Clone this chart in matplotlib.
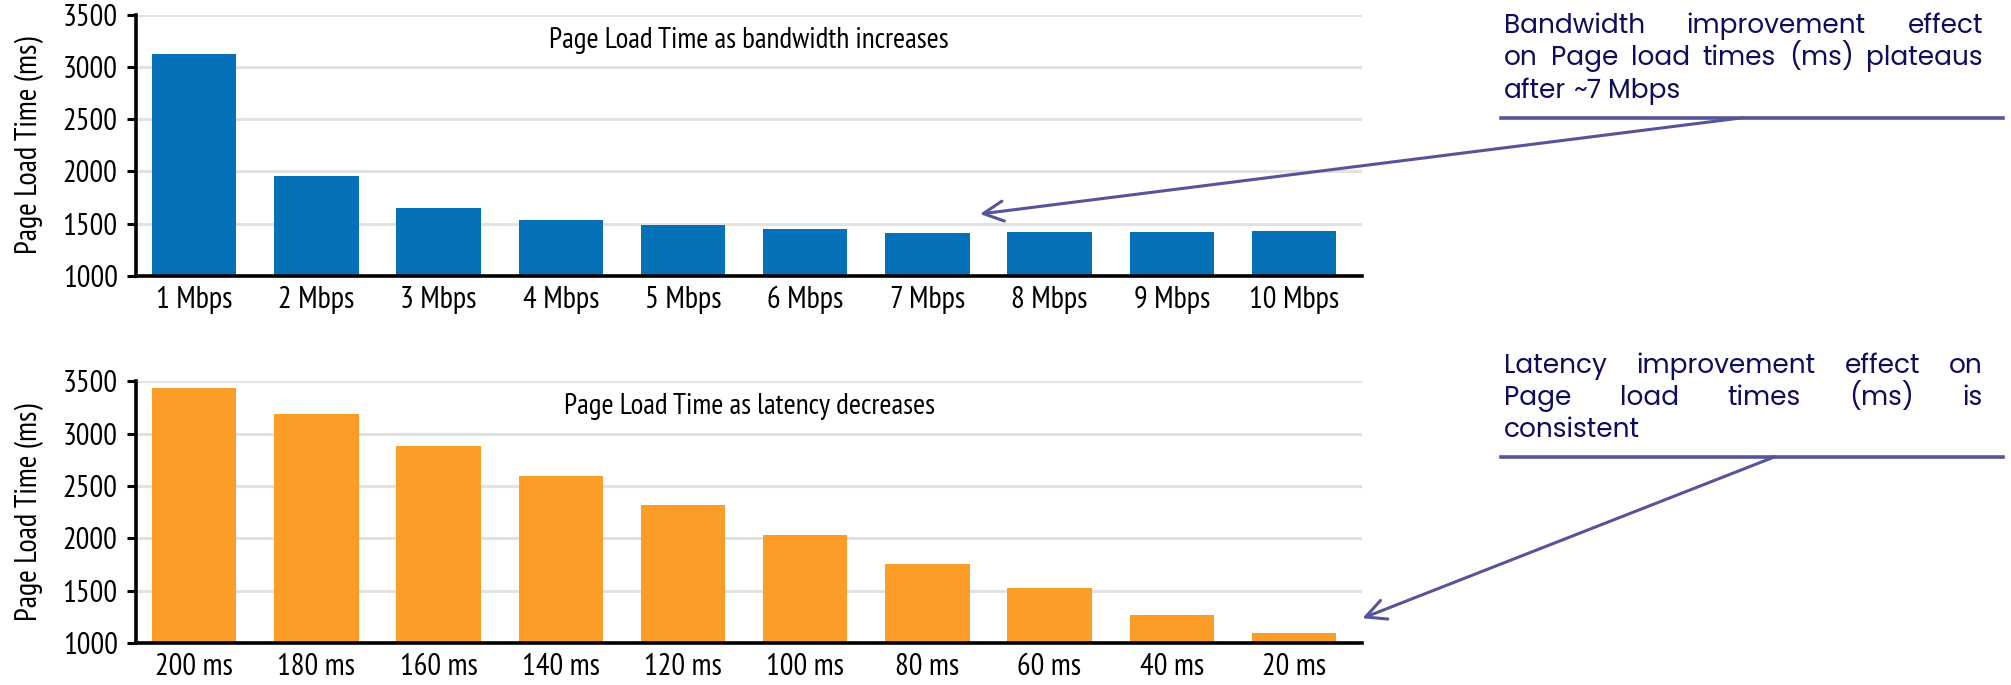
import matplotlib
matplotlib.use('Agg')
import matplotlib.pyplot as plt
from matplotlib.lines import Line2D

# Page load times (ms) per connection setting
bandwidth_labels = ['1 Mbps', '2 Mbps', '3 Mbps', '4 Mbps', '5 Mbps',
                    '6 Mbps', '7 Mbps', '8 Mbps', '9 Mbps', '10 Mbps']
bandwidth_plt = [3125, 1960, 1655, 1535, 1490, 1453, 1408, 1418, 1421, 1427]

latency_labels = ['200 ms', '180 ms', '160 ms', '140 ms', '120 ms',
                  '100 ms', '80 ms', '60 ms', '40 ms', '20 ms']
latency_plt = [3433, 3188, 2883, 2597, 2320, 2037, 1760, 1531, 1270, 1098]

y_ticks = [1000, 1500, 2000, 2500, 3000, 3500]

BLUE = '#0571b9'
ORANGE = '#fd9d27'
NOTE_LINE = '#56559b'
NOTE_TEXT = '#0d0d5c'
CHART_FONT = ['PT Sans Narrow', 'DejaVu Sans']
NOTE_FONT = dict(family=['Poppins', 'DejaVu Sans'], fontsize=19, color=NOTE_TEXT)

W, H = 2011, 685
fig = plt.figure(figsize=(W / 100, H / 100), dpi=100)


def bar_panel(rect, labels, values, color, title):
    ax = fig.add_axes(rect)
    ax.bar(range(len(values)), values, width=0.69, color=color, zorder=2)
    ax.set_xlim(-0.476, 9.557)
    ax.set_ylim(1000, 3500)
    ax.set_yticks(y_ticks)
    ax.set_xticks(range(len(labels)))
    ax.set_xticklabels(labels)
    for lab in ax.get_xticklabels() + ax.get_yticklabels():
        lab.set_family(CHART_FONT)
        lab.set_fontsize(22)
    ax.tick_params(axis='x', length=0, pad=7)
    ax.tick_params(axis='y', length=6.7, width=2.2, pad=6.5)
    ax.yaxis.grid(True, color='#e2e2e2', linewidth=2.2)
    ax.set_axisbelow(True)
    for s in ('top', 'right'):
        ax.spines[s].set_visible(False)
    for s in ('left', 'bottom'):
        ax.spines[s].set_linewidth(2.6)
        ax.spines[s].set_color('black')
    ax.set_ylabel('Page Load Time (ms)', family=CHART_FONT, fontsize=22, va='center')
    ax.yaxis.set_label_coords(-0.0873, 0.5)
    ax.text(0.5, 0.903, title, transform=ax.transAxes, ha='center', va='center',
            family=CHART_FONT, fontsize=21)
    return ax


ax_bw = bar_panel([136 / W, 1 - 276 / H, 1226 / W, 261.3 / H],
                  bandwidth_labels, bandwidth_plt, BLUE,
                  'Page Load Time as bandwidth increases')
ax_lat = bar_panel([136 / W, 1 - 643.3 / H, 1226 / W, 262 / H],
                   latency_labels, latency_plt, ORANGE,
                   'Page Load Time as latency decreases')

renderer = fig.canvas.get_renderer()


def draw_note(lines, baselines, justify, left=1504, right=1983):
    # lay words out one by one so the full lines fill the column
    probe = fig.text(0, 0, 'x x', **NOTE_FONT)
    w2 = probe.get_window_extent(renderer).width
    probe.set_text('xx')
    space = w2 - probe.get_window_extent(renderer).width
    probe.remove()
    for line, base, just in zip(lines, baselines, justify):
        words = line.split(' ')
        arts = [fig.text(0, 1 - base / H, w, ha='left', va='baseline', **NOTE_FONT)
                for w in words]
        widths = [a.get_window_extent(renderer).width for a in arts]
        gap = space
        if just:
            gap = max(space * 0.8, (right - left - sum(widths)) / (len(words) - 1))
        x = left
        for a, w in zip(arts, widths):
            a.set_x(x / W)
            x += w + gap


def note_rule(y, x0=1501, x1=2003):
    fig.add_artist(Line2D([x0 / W, x1 / W], [1 - y / H, 1 - y / H],
                          transform=fig.transFigure, color=NOTE_LINE, linewidth=2.6))


arrow = dict(arrowstyle='->,head_length=0.72,head_width=0.36', color=NOTE_LINE,
             linewidth=2.2, mutation_scale=20, shrinkA=0, shrinkB=0)

# bandwidth note
draw_note(['Bandwidth improvement effect',
           'on Page load times (ms) plateaus',
           'after ~7 Mbps'],
          [33.3, 65, 98.3], [True, True, False])
note_rule(117.7)
ax_bw.annotate('', xy=(6.43, 1593), xycoords='data',
               xytext=(1743 / W, 1 - 117.7 / H), textcoords='figure fraction',
               arrowprops=arrow, annotation_clip=False)

# latency note
draw_note(['Latency improvement effect on',
           'Page load times (ms) is',
           'consistent'],
          [373.3, 405, 437.3], [True, True, False])
note_rule(456.7)
ax_lat.annotate('', xy=(9.56, 1239), xycoords='data',
                xytext=(1775 / W, 1 - 456.7 / H), textcoords='figure fraction',
                arrowprops=arrow, annotation_clip=False)

fig.savefig('out.png', dpi=100)
